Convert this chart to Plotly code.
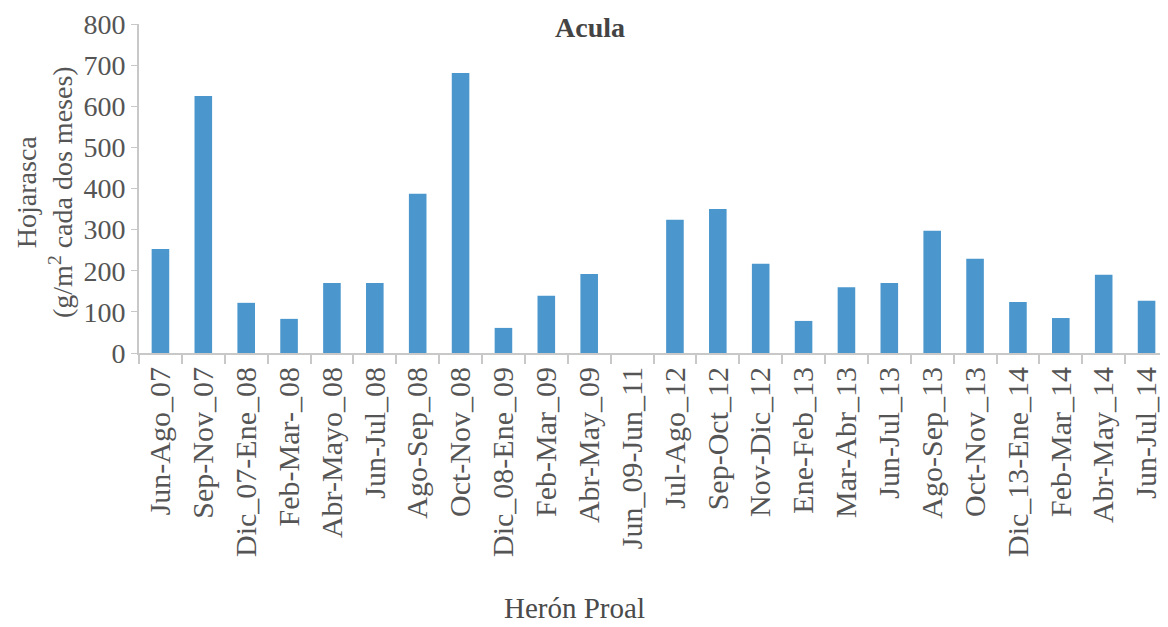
import plotly.graph_objects as go

categories = ["Jun-Ago_07", "Sep-Nov_07", "Dic_07-Ene_08", "Feb-Mar-_08", "Abr-Mayo_08",
              "Jun-Jul_08", "Ago-Sep_08", "Oct-Nov_08", "Dic_08-Ene_09", "Feb-Mar_09",
              "Abr-May_09", "Jun_09-Jun_11", "Jul-Ago_12", "Sep-Oct_12", "Nov-Dic_12",
              "Ene-Feb_13", "Mar-Abr_13", "Jun-Jul_13", "Ago-Sep_13", "Oct-Nov_13",
              "Dic_13-Ene_14", "Feb-Mar_14", "Abr-May_14", "Jun-Jul_14"]
values = [253, 625, 122, 83, 170, 170, 387, 681, 61, 139, 192, 0,
          324, 350, 217, 78, 160, 170, 297, 229, 124, 85, 190, 127]
y_ticks = [0, 100, 200, 300, 400, 500, 600, 700, 800]

FONT = "Liberation Serif"
TXT = "#555555"
AX = "#c8c8c8"

# page is offset by the 8px default body margin
OFF = 8
W, H = 1168 - OFF, 627 - OFF
L, R, T, B = 139 - OFF, 0, 24 - OFF, 274
PW, PH = W - L - R, H - T - B


def px_x(px):
    return (px - OFF - L) / PW


def px_y(py):
    return (H - B - (py - OFF)) / PH


fig = go.Figure(go.Bar(x=categories, y=values, marker_color="#4a96cd",
                       marker_line_width=0))

fig.update_layout(
    width=W, height=H,
    margin=dict(l=L, r=R, t=T, b=B, autoexpand=False),
    paper_bgcolor="white", plot_bgcolor="white",
    bargap=0.59,
    showlegend=False,
    font=dict(family=FONT, color=TXT, size=26),
)
fig.update_xaxes(
    type="category", tickangle=-90, tickson="boundaries",
    ticks="outside", ticklen=9, tickcolor=AX, tickwidth=2,
    showline=True, linecolor=AX, linewidth=2, showgrid=False,
    tickfont=dict(family=FONT, size=30, color=TXT),
)
fig.update_yaxes(
    range=[0, 800], tickvals=y_ticks, ticks="outside", ticklen=6,
    tickcolor=AX, tickwidth=1, showline=True, linecolor=AX, linewidth=2,
    showgrid=False, zeroline=False,
    tickfont=dict(family=FONT, size=28, color=TXT),
)
fig.add_annotation(text="Hojarasca<br>(g/m<sup>2</sup> cada dos meses)",
                   xref="paper", yref="paper", x=px_x(44), y=px_y(192),
                   xanchor="center", yanchor="middle",
                   textangle=-90, showarrow=False,
                   font=dict(family=FONT, size=28, color=TXT))
fig.add_annotation(text="<b>Acula</b>", xref="paper", yref="paper",
                   x=px_x(590), y=px_y(27), xanchor="center", yanchor="middle",
                   showarrow=False,
                   font=dict(family=FONT, size=28, color="#444444"))
fig.add_annotation(text="Herón Proal", xref="paper", yref="paper",
                   x=px_x(574), y=px_y(608), xanchor="center", yanchor="middle",
                   showarrow=False,
                   font=dict(family=FONT, size=29, color="#4a4a4a"))

fig.write_html("out.html")
